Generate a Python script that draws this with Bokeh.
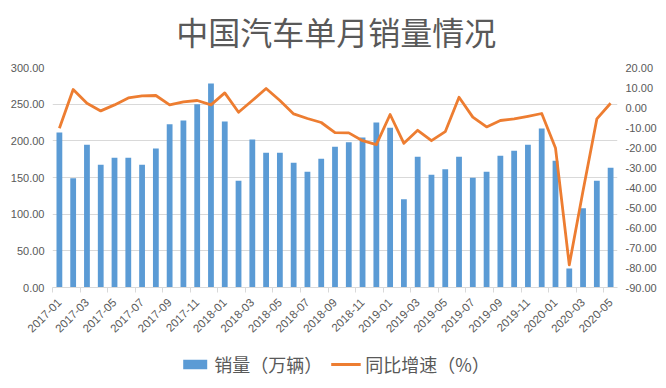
import math
from bokeh.plotting import figure
from bokeh.layouts import column
from bokeh.models import (Range1d, LinearAxis, FixedTicker, PrintfTickFormatter,
                          Legend, LegendItem, ColumnDataSource, Label)
from bokeh.embed import file_html
from bokeh.resources import INLINE

title_text = "中国汽车单月销量情况"

months = ["2017-01", "2017-02", "2017-03", "2017-04", "2017-05", "2017-06", "2017-07",
          "2017-08", "2017-09", "2017-10", "2017-11", "2017-12",
          "2018-01", "2018-02", "2018-03", "2018-04", "2018-05", "2018-06", "2018-07",
          "2018-08", "2018-09", "2018-10", "2018-11", "2018-12",
          "2019-01", "2019-02", "2019-03", "2019-04", "2019-05", "2019-06", "2019-07",
          "2019-08", "2019-09", "2019-10", "2019-11", "2019-12",
          "2020-01", "2020-02", "2020-03", "2020-04", "2020-05"]

sales = [211.2, 148.9, 194.8, 167.5, 177.1, 177.1, 167.5, 189.4, 222.6, 227.6,
         249.9, 278.1, 226.2, 145.7, 201.7, 183.9, 183.9, 170.2, 158.0, 175.7,
         192.1, 198.0, 204.4, 224.9, 218.0, 120.2, 178.4, 153.9, 161.1, 178.4,
         149.8, 158.0, 179.8, 186.6, 194.8, 216.7, 173.0, 25.9, 107.9, 145.7,
         163.4]

growth = [-10.4, 9.0, 2.1, -1.7, 1.3, 4.8, 5.8, 6.0, 1.3, 2.8,
          3.5, 1.3, 7.3, -2.4, 3.5, 9.5, 3.5, -3.2, -5.5, -7.5,
          -12.6, -12.7, -16.6, -18.6, -3.5, -17.9, -11.4, -16.6, -12.1, 5.1,
          -4.8, -9.7, -6.5, -5.7, -4.4, -3.0, -20.2, -78.7, -41.6, -5.7,
          2.1]

left_ticks = [0, 50, 100, 150, 200, 250, 300]
right_ticks = [-90, -80, -70, -60, -50, -40, -30, -20, -10, 0, 10, 20]

idx = list(range(len(months)))
src = ColumnDataSource(dict(x=idx, month=months, sales=sales, growth=growth))

GRAY = "#595959"
GRID = "#d9d9d9"
BLUE = "#5B9BD5"
ORANGE = "#ED7D31"
TICK_FONT = "Liberation Sans"

# ---- title strip ----
tt = figure(width=666, height=60, output_backend="svg", toolbar_location=None,
            x_range=Range1d(0, 1), y_range=Range1d(0, 1), min_border=0,
            x_axis_location=None, y_axis_location=None,
            background_fill_color="white", border_fill_color="white")
tt.outline_line_color = None
tt.grid.visible = False
tt.add_layout(Label(x=0.502, y=0.5, text=title_text, text_align="center",
                    text_baseline="middle", text_font="Noto Sans CJK SC",
                    text_font_size="32px", text_color=GRAY))

# ---- main chart ----
p = figure(width=666, height=280, output_backend="svg", toolbar_location=None,
           x_range=Range1d(-0.5, len(months) - 0.5), y_range=Range1d(0, 300),
           min_border_left=52, min_border_right=49, min_border_top=7,
           min_border_bottom=53, background_fill_color="white",
           border_fill_color="white")
p.outline_line_color = None

p.extra_y_ranges = {"g": Range1d(-90, 20)}

bars = p.vbar(x="x", top="sales", bottom=0, width=0.42, source=src,
              fill_color=BLUE, line_color=None)
line = p.line(x="x", y="growth", source=src, y_range_name="g",
              line_color=ORANGE, line_width=2.8, line_join="round")

# x axis
xa = p.xaxis[0]
xa.ticker = FixedTicker(ticks=list(range(0, len(months), 2)),
                        minor_ticks=[i - 0.5 for i in range(0, len(months), 2)])
xa.major_label_overrides = {i: months[i] for i in range(0, len(months), 2)}
xa.major_label_orientation = math.pi / 4
xa.major_label_text_font = TICK_FONT
xa.major_label_text_font_size = "11.5px"
xa.major_label_text_color = GRAY
xa.major_tick_out = 0
xa.major_tick_in = 0
xa.minor_tick_out = 5
xa.minor_tick_in = 0
xa.minor_tick_line_color = GRID
xa.axis_line_color = GRID
xa.major_label_standoff = 8

# left axis
ya = p.yaxis[0]
ya.ticker = FixedTicker(ticks=left_ticks)
ya.formatter = PrintfTickFormatter(format="%.2f")
ya.axis_line_color = None
ya.major_tick_line_color = None
ya.minor_tick_line_color = None
ya.major_tick_out = 0
ya.major_tick_in = 0
ya.minor_tick_out = 0
ya.minor_tick_in = 0
ya.major_label_text_font = TICK_FONT
ya.major_label_text_font_size = "11px"
ya.major_label_text_color = GRAY
ya.major_label_standoff = 8

# right axis
ra = LinearAxis(y_range_name="g", ticker=FixedTicker(ticks=right_ticks),
                formatter=PrintfTickFormatter(format="%.2f"))
ra.axis_line_color = None
ra.major_tick_line_color = None
ra.minor_tick_line_color = None
ra.major_tick_out = 0
ra.major_tick_in = 0
ra.minor_tick_out = 0
ra.minor_tick_in = 0
ra.major_label_text_font = TICK_FONT
ra.major_label_text_font_size = "11px"
ra.major_label_text_color = GRAY
ra.major_label_standoff = 8
p.add_layout(ra, "right")

p.xgrid.visible = False
p.ygrid.grid_line_color = GRID
p.ygrid.ticker = FixedTicker(ticks=left_ticks)

# ---- legend strip ----
lg = figure(width=666, height=48, output_backend="svg", toolbar_location=None,
            x_range=Range1d(1000, 1001), y_range=Range1d(1000, 1001), min_border=0,
            x_axis_location=None, y_axis_location=None,
            background_fill_color="white", border_fill_color="white")
lg.outline_line_color = None
lg.grid.visible = False
lb = lg.vbar(x="x", top="sales", width=0.42, source=src, fill_color=BLUE, line_color=None)
ll = lg.line(x="x", y="growth", source=src, line_color=ORANGE, line_width=3)

legend = Legend(items=[LegendItem(label="销量（万辆）", renderers=[lb]),
                       LegendItem(label="同比增速（%）", renderers=[ll])],
                orientation="horizontal", location="center")
legend.label_text_font = "Noto Sans CJK SC"
legend.label_text_font_size = "18px"
legend.label_text_color = GRAY
legend.glyph_width = 30
legend.glyph_height = 12
legend.label_standoff = 5
legend.spacing = 8
legend.padding = 0
legend.margin = 0
legend.border_line_color = None
legend.background_fill_alpha = 0
lg.add_layout(legend)

layout = column(tt, p, lg, spacing=0)

open("out.html", "w").write(file_html(layout, INLINE))
